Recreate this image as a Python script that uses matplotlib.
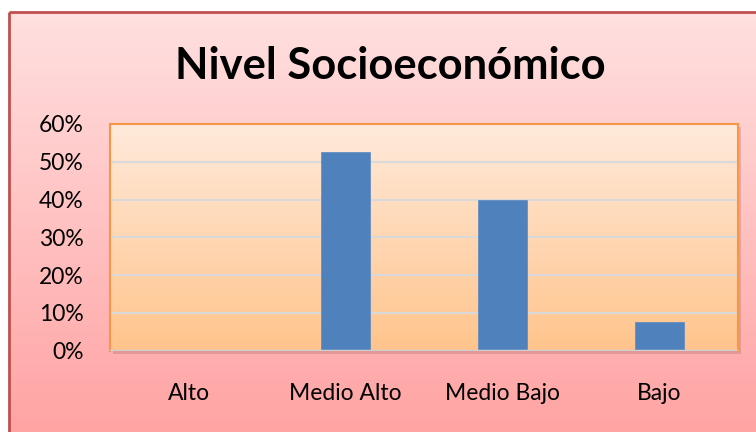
import numpy as np
import matplotlib
matplotlib.use("Agg")
import matplotlib.pyplot as plt
from matplotlib.patches import Rectangle
from matplotlib.colors import LinearSegmentedColormap

categories = ["Alto", "Medio Alto", "Medio Bajo", "Bajo"]
values = [0.0, 52.5, 40.0, 7.5]
yticks = [0, 10, 20, 30, 40, 50, 60]
ytick_labels = ["0%", "10%", "20%", "30%", "40%", "50%", "60%"]
title = "Nivel Socioeconómico"

plt.rcParams['font.family'] = ['Lato', 'DejaVu Sans']

W, H = 756, 432
fig = plt.figure(figsize=(W / 100, H / 100), dpi=100, facecolor="white")

# chart-area background with gradient and red border (top/left visible)
bg = fig.add_axes([0, 0, 1, 1], zorder=-10)
bg.set_axis_off()
grad = np.linspace(0, 1, 256).reshape(-1, 1)
cmap_bg = LinearSegmentedColormap.from_list("bg", ["#ffe0e0", "#ffa2a2"])
bg.imshow(grad, aspect="auto", cmap=cmap_bg, extent=[9, W + 10, H + 10, 12],
          interpolation="bilinear")
bg.plot([9, 9], [12, H + 5], color="#c0504d", lw=2.0, zorder=2, solid_capstyle="butt")
bg.plot([9, W + 5], [12, 12], color="#c0504d", lw=2.0, zorder=2, solid_capstyle="butt")
# plot-area shadow
bg.add_patch(Rectangle((113, 127), 628, 227, color="#b07070", alpha=0.35, zorder=1, lw=0))
bg.set_xlim(0, W)
bg.set_ylim(H, 0)

bg.text(390, 66, title, ha="center", va="center", fontsize=31.3, fontweight="bold", color="black")

left, right, top, bottom = 110, 738, 124, 350.7
ax = fig.add_axes([left / W, (H - bottom) / H, (right - left) / W, (bottom - top) / H])
cmap_pa = LinearSegmentedColormap.from_list("pa", ["#ffeadb", "#ffc48c"])
x = np.arange(len(categories))
ax.imshow(grad, aspect="auto", cmap=cmap_pa, extent=[-0.5, 3.5, 0, 60], zorder=0,
          interpolation="bilinear")
ax.set_xlim(-0.5, 3.5)
ax.set_ylim(0, 60)
for t in yticks[1:-1]:
    ax.axhline(t, color="#d9d9d9", lw=1.5, zorder=1)
ax.bar(x, values, width=0.31, color="#4f81bd", edgecolor="#5a88c0", lw=0.5, zorder=3)
ax.axhline(0, color="#d0d0d0", lw=2.5, zorder=4)

for s in ["top", "left", "right"]:
    ax.spines[s].set_color("#f79646")
    ax.spines[s].set_linewidth(1.5)
ax.spines["bottom"].set_visible(False)

ax.set_yticks(yticks)
ax.set_yticklabels(ytick_labels, fontsize=16.5)
ax.set_xticks(x)
ax.set_xticklabels(categories, fontsize=16.5)
ax.tick_params(axis="both", length=0)
ax.tick_params(axis="y", pad=19)
ax.tick_params(axis="x", pad=23)

fig.savefig("out.png", dpi=100)
